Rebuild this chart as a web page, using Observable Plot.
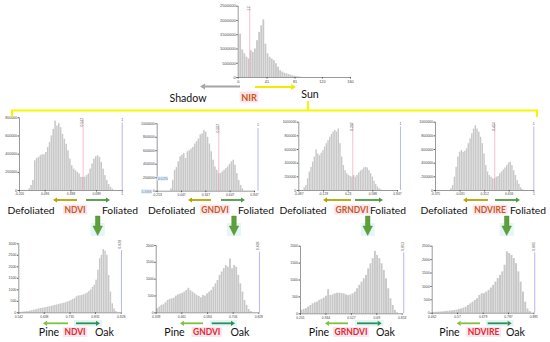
<!DOCTYPE html>
<html><head><meta charset="utf-8">
<script src="https://cdn.jsdelivr.net/npm/d3@7"></script>
<script src="https://cdn.jsdelivr.net/npm/@observablehq/plot@0.6"></script>
<style>
html,body{margin:0;padding:0;background:#fff;}
#fig{position:relative;width:550px;height:342px;overflow:hidden;font-family:Lato,"Open Sans",sans-serif;}
.panel{position:absolute;}
</style></head><body><div id="fig"></div>
<script>
// ---------- DATA ----------
// Top: NIR histogram (bins of 3 from 2)
const nirCounts = [1520000,970000,830000,710000,650000,940000,880000,1000000,1290000,1580000,1810000,2020000,1170000,830000,710000,650000,590000,480000,360000,240000,190000,150000,130000,100000,75000,55000,40000,28000,18000,10000];
const nirRange = [2, 92];
const nirXTicks = [0, 41, 81, 120, 160];
const nirYTicks = [0, 500000, 1000000, 1500000, 2000000, 2500000];
const nirThreshold = 16.5, nirThresholdLabel = "17";

// Middle row: Defoliated vs Foliated
const ndviCounts = [18000,55000,110000,327000,353000,364000,382000,393000,393000,418000,473000,527000,600000,673000,764000,709000,735000,691000,618000,564000,509000,436000,345000,273000,236000,218000,200000,182000,145000,145000,145000,164000,182000,236000,291000,345000,371000,382000,364000,309000,236000,164000,109000,65000,36000,15000];
const ndviRange = [-0.096, 0.901];
const ndviXTicks = [-0.205, 0.096, 0.398, 0.699, 1];
const ndviYTicks = [0, 200000, 400000, 600000, 800000];
const ndviThreshold = 0.542;

const gndviCounts = [35000,160000,310000,350000,435000,510000,535000,560000,485000,585000,600000,625000,650000,700000,735000,775000,835000,850000,900000,875000,800000,700000,585000,460000,360000,310000,260000,260000,285000,310000,335000,360000,400000,435000,460000,385000,260000,160000,85000,35000];
const gndviRange = [-0.089, 0.815];
const gndviXTicks = [-0.253, 0.047, 0.347, 0.647, 0.947];
const gndviYTicks = [0, 200000, 400000, 600000, 800000, 1000000];
const gndviThreshold = 0.507;

const grndviCounts = [40000,73000,170000,270000,340000,415000,490000,595000,535000,510000,545000,585000,635000,685000,730000,780000,820000,855000,880000,855000,900000,685000,490000,365000,290000,245000,220000,205000,195000,220000,195000,220000,255000,285000,300000,330000,340000,330000,290000,245000,195000,135000,90000,50000,25000,10000];
const grndviRange = [-0.414, 0.725];
const grndviXTicks = [-0.487, -0.129, 0.23, 0.588, 0.947];
const grndviYTicks = [0, 200000, 400000, 600000, 800000, 1000000];
const grndviThreshold = 0.297;

const ndvireCounts = [25000,73000,195000,340000,490000,560000,585000,560000,575000,610000,685000,755000,830000,900000,950000,900000,855000,780000,685000,535000,365000,270000,220000,195000,170000,170000,195000,205000,245000,270000,300000,330000,365000,400000,415000,365000,290000,220000,145000,90000,40000,15000];
const ndvireRange = [-0.165, 0.860];
const ndvireXTicks = [-0.375, -0.031, 0.312, 0.656, 1];
const ndvireYTicks = [0, 200000, 400000, 600000, 800000, 1000000];
const ndvireThreshold = 0.454;

const midMax = [1, 0.99, 0.99, 1];

// Bottom row: Pine vs Oak
const ndviOakCounts = [20,30,40,50,60,75,90,110,130,150,170,190,200,215,230,250,265,280,300,320,340,360,380,400,420,440,470,500,540,580,620,700,730,740,760,780,820,860,930,1000,1100,1200,1420,1850,2350,2500,2750,2680,2500,1620,900,390,170,60];
const ndviOakRange = [0.548, 0.913];
const ndviOakXTicks = [0.542, 0.638, 0.735, 0.831, 0.928];
const ndviOakYTicks = [0, 500, 1000, 1500, 2000, 2500, 3000];

const gndviOakCounts = [120,170,220,240,300,370,400,415,435,495,535,555,575,615,665,730,655,615,565,515,485,445,515,495,565,615,665,760,860,960,1110,1210,1310,1405,1355,1600,1310,1405,1355,1110,860,615,365,220,100,40];
const gndviOakRange = [0.341, 0.797];
const gndviOakXTicks = [0.339, 0.461, 0.584, 0.706, 0.828];
const gndviOakYTicks = [0, 500, 1000, 1500, 2000];

const grndviOakCounts = [100,130,150,200,245,295,325,345,395,425,465,520,710,540,560,590,610,610,600,590,560,540,560,590,640,740,840,935,1035,1135,1330,1480,1630,1845,1725,1630,1480,1280,1035,740,445,245,100,30];
const grndviOakRange = [0.203, 0.831];
const grndviOakXTicks = [0.201, 0.364, 0.527, 0.69, 0.853];
const grndviOakYTicks = [0, 500, 1000, 1500, 2000];

const ndvireOakCounts = [30,35,40,45,50,60,70,80,90,100,115,140,160,190,225,290,350,410,475,540,660,725,725,790,850,940,1040,1160,1290,1410,1540,1790,2290,2225,2160,2040,1850,1540,1160,790,410,160,60];
const ndvireOakRange = [0.465, 0.885];
const ndvireOakXTicks = [0.462, 0.570, 0.679, 0.787, 0.895];
const ndvireOakYTicks = [0, 500, 1000, 1500, 2000, 2500];

const botMax = [0.929, 0.831, 0.863, 0.899];
const botMaxLabels = ["0.928", "0.828", "0.853", "0.895"];

const indexNames = ["NDVI", "GNDVI", "GRNDVI", "NDVIRE"];

// ---------- LAYOUT ----------
const fig = d3.select("#fig");

function panel(spec, lay) {
  const n = spec.counts.length, w = (spec.range[1] - spec.range[0]) / n;
  const bins = spec.counts.map((c, i) => ({x1: spec.range[0] + i * w, x2: spec.range[0] + (i + 1) * w, y: c}));
  const xT = spec.xTicks, yT = spec.yTicks;
  const yMax = yT[yT.length - 1];
  const fs = lay.fs || 3.5;
  const marks = [
    Plot.rectY(bins, {x1: "x1", x2: "x2", y: "y", fill: "#c8c8c8", insetLeft: 0.15, insetRight: 0.15}),
  ];
  if (spec.pink != null) {
    marks.push(Plot.ruleX([spec.pink], {x: d => d, y1: () => 0, y2: () => yMax * (spec.pinkTop || 0.98), stroke: "#f3a3b6", strokeWidth: 0.7}));
    if (spec.pinkLabel) marks.push(Plot.text([spec.pink], {x: d => d, y: () => yMax * 1.0, text: () => spec.pinkLabel, rotate: -90, textAnchor: "end", lineAnchor: "bottom", fontSize: fs, fill: "#555"}));
  }
  if (spec.blue != null) {
    marks.push(Plot.ruleX([spec.blue], {x: d => d, y1: () => 0, y2: () => yMax * spec.blueTop, stroke: "#a3a3f0", strokeWidth: 0.8}));
    marks.push(Plot.text([spec.blue], {x: d => d, y: () => yMax * (spec.blueTop + 0.03), text: () => spec.blueLabel,
      rotate: spec.blueRotate ? -90 : 0, textAnchor: spec.blueRotate ? "start" : "middle", lineAnchor: "bottom", fontSize: fs, fill: "#555"}));
  }
  marks.push(
    Plot.ruleY([0], {stroke: "#555", strokeWidth: 0.6}),
    Plot.ruleX([xT[0]], {x: d => d, y1: () => 0, y2: () => yMax, stroke: "#555", strokeWidth: 0.6}),
    Plot.axisX({ticks: xT, tickFormat: d => String(d), tickSize: 1.5, tickPadding: 1, fontSize: fs * 0.95, stroke: "#555", fill: "#444", label: null}),
    Plot.axisY({ticks: yT, tickFormat: d => String(d), tickSize: 1.5, tickPadding: 1, fontSize: fs, stroke: "#555", fill: "#444", label: null})
  );
  const chart = Plot.plot({
    width: lay.width, height: lay.height,
    marginLeft: lay.mL, marginRight: lay.mR, marginTop: lay.mT, marginBottom: lay.mB,
    x: {domain: [xT[0], xT[xT.length - 1]], axis: null, label: null},
    y: {domain: [0, yMax], axis: null, label: null},
    style: {background: "transparent", fontFamily: "Liberation Sans, sans-serif", overflow: "visible"},
    marks
  });
  const div = fig.append("div").attr("class", "panel").style("left", lay.left + "px").style("top", lay.top + "px");
  div.node().appendChild(chart);
}

// top
panel({counts: nirCounts, range: nirRange, xTicks: nirXTicks, yTicks: nirYTicks, pink: nirThreshold, pinkLabel: nirThresholdLabel, pinkTop: 1},
      {left: 200, top: 0, width: 160, height: 90, mL: 37.7, mR: 10, mT: 5.7, mB: 13, fs: 4});

// middle
const midSpecs = [
  {counts: ndviCounts, range: ndviRange, xTicks: ndviXTicks, yTicks: ndviYTicks, pink: ndviThreshold},
  {counts: gndviCounts, range: gndviRange, xTicks: gndviXTicks, yTicks: gndviYTicks, pink: gndviThreshold},
  {counts: grndviCounts, range: grndviRange, xTicks: grndviXTicks, yTicks: grndviYTicks, pink: grndviThreshold},
  {counts: ndvireCounts, range: ndvireRange, xTicks: ndvireXTicks, yTicks: ndvireYTicks, pink: ndvireThreshold}
];
const midLay = [
  {left: 0, top: 110, width: 135, height: 92, mL: 19, mR: 13.3, mT: 7.3, mB: 12},
  {left: 135, top: 110, width: 135, height: 92, mL: 21.7, mR: 16, mT: 13.3, mB: 11.3},
  {left: 270, top: 110, width: 135, height: 92, mL: 28.3, mR: 8, mT: 11.7, mB: 12},
  {left: 405, top: 110, width: 145, height: 92, mL: 30, mR: 16.7, mT: 11.7, mB: 12}
];
midSpecs.forEach((s, i) => panel({...s, pinkLabel: String(s.pink), pinkTop: 0.97, blue: midMax[i], blueTop: 0.93, blueLabel: "1", blueRotate: false}, midLay[i]));

// bottom
const botSpecs = [
  {counts: ndviOakCounts, range: ndviOakRange, xTicks: ndviOakXTicks, yTicks: ndviOakYTicks},
  {counts: gndviOakCounts, range: gndviOakRange, xTicks: gndviOakXTicks, yTicks: gndviOakYTicks},
  {counts: grndviOakCounts, range: grndviOakRange, xTicks: grndviOakXTicks, yTicks: grndviOakYTicks},
  {counts: ndvireOakCounts, range: ndvireOakRange, xTicks: ndvireOakXTicks, yTicks: ndvireOakYTicks}
];
const botLay = [
  {left: 0, top: 235, width: 135, height: 90, mL: 18.3, mR: 14.3, mT: 8.3, mB: 12.7},
  {left: 135, top: 235, width: 135, height: 90, mL: 20.7, mR: 11.7, mT: 10, mB: 12.7},
  {left: 270, top: 235, width: 140, height: 90, mL: 30, mR: 8.3, mT: 10.7, mB: 11.7},
  {left: 405, top: 235, width: 145, height: 90, mL: 26.7, mR: 16.7, mT: 10.7, mB: 12.3}
];
botSpecs.forEach((s, i) => panel({...s, blue: botMax[i], blueTop: 0.9, blueLabel: botMaxLabels[i], blueRotate: true}, botLay[i]));

// ---------- ANNOTATION OVERLAY ----------
const svg = fig.append("svg").attr("width", 550).attr("height", 342)
  .style("position", "absolute").style("left", "0px").style("top", "0px");

function arrow(x1, x2, y, color, sw, hl, hw) {
  const dir = Math.sign(x2 - x1);
  svg.append("line").attr("x1", x1).attr("x2", x2 - dir * hl).attr("y1", y).attr("y2", y)
    .attr("stroke", color).attr("stroke-width", sw);
  svg.append("path").attr("d", `M${x2},${y}L${x2 - dir * hl},${y - hw}L${x2 - dir * hl},${y + hw}Z`).attr("fill", color);
}
function label(x, y, t, opts = {}) {
  const g = svg.append("g");
  const txt = g.append("text").attr("x", x).attr("y", y).attr("text-anchor", "middle").attr("dominant-baseline", "central")
    .attr("font-family", "Lato, sans-serif").attr("font-size", opts.size || 10.3)
    .attr("font-weight", opts.bold ? 700 : 400).attr("fill", opts.color || "#111").text(t);
  if (opts.box) {
    const b = txt.node().getBBox();
    g.insert("rect", "text").attr("x", b.x - 1.5).attr("y", b.y).attr("width", b.width + 3).attr("height", b.height)
      .attr("fill", opts.box);
  }
}
function downArrow(cx, y0) {
  svg.append("rect").attr("x", cx - 7).attr("y", y0 + 7).attr("width", 14).attr("height", 13).attr("fill", "#e4f6f5");
  svg.append("path").attr("d", `M${cx - 2.3},${y0}L${cx + 2.3},${y0}L${cx + 2.3},${y0 + 10}L${cx + 4.8},${y0 + 10}L${cx},${y0 + 19.5}L${cx - 4.8},${y0 + 10}L${cx - 2.3},${y0 + 10}Z`)
    .attr("fill", "#5f9f3a").attr("stroke", "#4a8a2a").attr("stroke-width", 0.4);
}

// top annotations
arrow(240, 200, 86.5, "#a6a6a6", 2, 5, 3);
arrow(255, 296, 87, "#eded00", 2, 5, 3);
label(188, 97.5, "Shadow", {size: 10.6});
label(249, 97, "NIR", {bold: true, color: "#c55a11", box: "#fde3ec", size: 9.2});
label(310, 94, "Sun", {size: 10.6});
// yellow connectors
svg.append("path").attr("d", "M308,101V110.5M12,117V110.5H537V117").attr("fill", "none")
  .attr("stroke", "#f6f600").attr("stroke-width", 2);

// middle row annotations
const midText = [
  {def: 31, idx: 75, fol: 120, aL: [77, 53], aR: [86, 110], down: 97.7},
  {def: 171.7, idx: 215, fol: 256, aL: [211, 188], aR: [221, 245], down: 234},
  {def: 303, idx: 352, fol: 388, aL: [351, 323], aR: [355, 383], down: 367.7},
  {def: 444, idx: 490, fol: 528, aL: [488, 463], aR: [495, 520], down: 506.7}
];
midText.forEach((m, i) => {
  arrow(m.aL[0], m.aL[1], 200, "#b4a300", 1.8, 4, 2.6);
  arrow(m.aR[0], m.aR[1], 200, "#4d9a40", 1.8, 4, 2.6);
  label(m.def, 209.5, "Defoliated");
  label(m.fol, 209.5, "Foliated");
  label(m.idx, 209.5, indexNames[i], {bold: true, color: "#c55a1d", box: "#fde5ee", size: 8.5});
  downArrow(m.down, 216);
});

// bottom row annotations
const botText = [
  {pine: 49, idx: 75, oak: 104.5, aL: [68, 43], aR: [76, 100]},
  {pine: 174.5, idx: 206.7, oak: 240, aL: [203, 180], aR: [211.7, 235]},
  {pine: 319, idx: 351, oak: 385.5, aL: [348, 325], aR: [357, 381.7]},
  {pine: 449.5, idx: 483.5, oak: 515.5, aL: [480, 456.7], aR: [487.7, 511.7]}
];
botText.forEach((m, i) => {
  svg.append("rect").attr("x", m.aR[0] - 2).attr("y", 320).attr("width", m.aR[1] - m.aR[0] + 4).attr("height", 6.5).attr("fill", "#e4f6f4");
  arrow(m.aL[0], m.aL[1], 323.3, "#7dc242", 1.8, 4, 2.6);
  arrow(m.aR[0], m.aR[1], 323.3, "#2f8f5b", 1.8, 4, 2.6);
  label(m.pine, 331.5, "Pine", {size: 10.6});
  label(m.oak, 331.5, "Oak", {size: 10.6});
  label(m.idx, 332, indexNames[i], {bold: true, color: "#e0282e", box: "#fde5ee", size: 8.5});
});

// small highlighted artifacts in GNDVI panel
svg.append("rect").attr("x", 157).attr("y", 176.5).attr("width", 11).attr("height", 4).attr("fill", "#bdf3f3");
svg.append("text").attr("x", 158).attr("y", 179.8).attr("font-size", 3.2).attr("font-family", "Liberation Sans").attr("fill", "#e040c0").text("0.0 2%");
svg.append("rect").attr("x", 141).attr("y", 189.5).attr("width", 11).attr("height", 4).attr("fill", "#bdf3f3");
svg.append("text").attr("x", 142).attr("y", 192.8).attr("font-size", 3.2).attr("font-family", "Liberation Sans").attr("fill", "#e040c0").text("1.3 6%");
</script></body></html>
